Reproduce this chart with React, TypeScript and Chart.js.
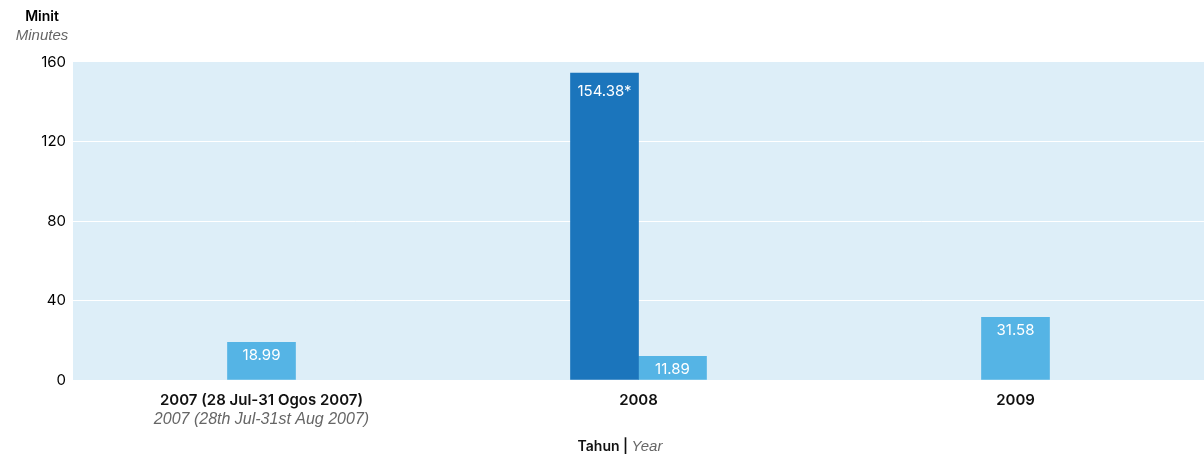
import React, { useEffect, useRef } from "react";
import { Chart, registerables } from "chart.js";

Chart.register(...registerables);

const categories = ["2007", "2008", "2009"];
const categoryLines: string[][] = [
  ["2007 (28 Jul-31 Ogos 2007)", "2007 (28th Jul-31st Aug 2007)"],
  ["2008"],
  ["2009"],
];
const darkSeries: (number | null)[] = [null, 154.38, null];
const lightSeries: (number | null)[] = [18.99, 11.89, 31.58];
const darkSuffix = "*";
const yTicks = [0, 40, 80, 120, 160];

const FONT = "Inter, 'Liberation Sans', Arial, sans-serif";
const FONT_IT = "'Liberation Sans', Arial, sans-serif";
const DARK = "#1b75bc";
const LIGHT = "#55b4e5";
const BG = "#ddeef8";

const decorPlugin = {
  id: "decor",
  beforeDraw(chart: any) {
    const { ctx, chartArea } = chart;
    ctx.save();
    ctx.fillStyle = BG;
    ctx.fillRect(chartArea.left, chartArea.top, chartArea.right - chartArea.left, chartArea.bottom - chartArea.top);
    ctx.restore();
  },
  afterDraw(chart: any) {
    const { ctx, chartArea } = chart;
    const xScale = chart.scales.x;
    ctx.save();
    // y-axis title
    ctx.textAlign = "center";
    ctx.textBaseline = "middle";
    ctx.fillStyle = "#000";
    ctx.font = `600 14px ${FONT}`;
    ctx.fillText("Minit", 42, 17);
    ctx.fillStyle = "#666";
    ctx.font = `italic 15px ${FONT_IT}`;
    ctx.fillText("Minutes", 42, 36);

    // category labels
    categoryLines.forEach((lines, i) => {
      const x = xScale.getPixelForValue(i);
      lines.forEach((line, j) => {
        if (j === 0) {
          ctx.fillStyle = "#111";
          ctx.font = `600 15px ${FONT}`;
        } else {
          ctx.fillStyle = "#666";
          ctx.font = `italic 16px ${FONT_IT}`;
        }
        ctx.fillText(line, x, chartArea.bottom + 20 + j * 20);
      });
    });

    // x-axis title
    ctx.font = `600 14px ${FONT}`;
    const a = "Tahun | ";
    const wa = ctx.measureText(a).width;
    ctx.font = `italic 15px ${FONT_IT}`;
    const b = "Year";
    const wb = ctx.measureText(b).width;
    const start = 620 - (wa + wb) / 2;
    ctx.textAlign = "left";
    ctx.font = `600 14px ${FONT}`;
    ctx.fillStyle = "#111";
    ctx.fillText(a, start, 447);
    ctx.font = `italic 15px ${FONT_IT}`;
    ctx.fillStyle = "#666";
    ctx.fillText(b, start + wa, 447);
    ctx.restore();
  },
  afterDatasetsDraw(chart: any) {
    const { ctx } = chart;
    ctx.save();
    ctx.fillStyle = "#fff";
    ctx.font = `15px ${FONT}`;
    ctx.textAlign = "center";
    ctx.textBaseline = "top";
    chart.data.datasets.forEach((ds: any, di: number) => {
      const meta = chart.getDatasetMeta(di);
      meta.data.forEach((bar: any, i: number) => {
        const v = ds.data[i];
        if (v === null || v === undefined) return;
        const txt = v.toFixed(2) + (di === 0 ? darkSuffix : "");
        ctx.fillText(txt, bar.x, bar.y + (di === 0 ? 11 : 6));
      });
    });
    ctx.restore();
  },
};

export default function App() {
  const ref = useRef<HTMLCanvasElement>(null);
  useEffect(() => {
    if (!ref.current) return;
    const chart = new Chart(ref.current, {
      type: "bar",
      data: {
        labels: categories,
        datasets: [
          { label: "dark", data: darkSeries, backgroundColor: DARK, barThickness: 68 },
          { label: "light", data: lightSeries, backgroundColor: LIGHT, barThickness: 68 },
        ],
      },
      options: {
        responsive: false,
        animation: false,
        skipNull: true,
        layout: { padding: { top: 62, bottom: 78, right: 0, left: 0 } },
        plugins: { legend: { display: false }, tooltip: { enabled: false } },
        scales: {
          x: {
            ticks: { display: false },
            grid: { display: false },
            border: { display: false },
            afterFit: (scale: any) => {
              scale.height = 0;
            },
          },
          y: {
            min: 0,
            max: 160,
            afterBuildTicks: (scale: any) => {
              scale.ticks = yTicks.map((v) => ({ value: v }));
            },
            afterFit: (scale: any) => {
              scale.width = 73;
            },
            ticks: {
              color: "#000",
              font: { family: FONT, size: 15 },
              padding: 7,
            },
            grid: {
              color: (c: any) => (c.tick && (c.tick.value === 0 || c.tick.value === 160) ? "rgba(0,0,0,0)" : "#ffffff"),
              drawTicks: false,
              lineWidth: 1,
            },
            border: { display: false },
          },
        },
      } as any,
      plugins: [decorPlugin],
    });
    return () => chart.destroy();
  }, []);
  return (
    <div style={{ position: "absolute", left: 0, top: 0, width: 1204, height: 458, background: "#fff" }}>
      <canvas ref={ref} width={1204} height={458} />
    </div>
  );
}
